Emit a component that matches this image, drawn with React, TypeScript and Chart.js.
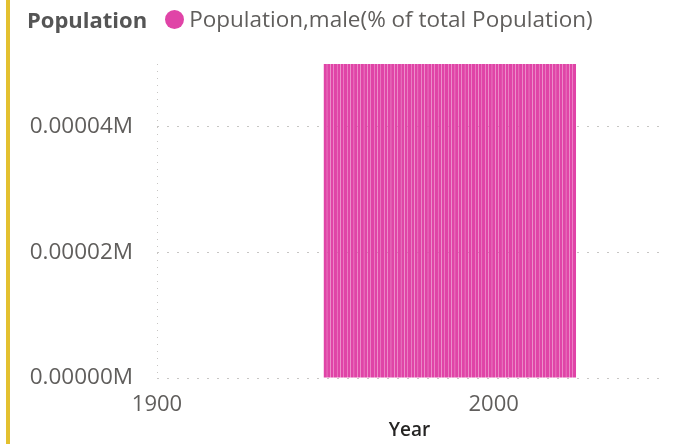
import React, { useEffect, useRef } from "react";
import { Chart, registerables } from "chart.js";

Chart.register(...registerables);

const years: number[] = [
  1950, 1951, 1952, 1953, 1954, 1955, 1956, 1957, 1958, 1959,
  1960, 1961, 1962, 1963, 1964, 1965, 1966, 1967, 1968, 1969,
  1970, 1971, 1972, 1973, 1974, 1975, 1976, 1977, 1978, 1979,
  1980, 1981, 1982, 1983, 1984, 1985, 1986, 1987, 1988, 1989,
  1990, 1991, 1992, 1993, 1994, 1995, 1996, 1997, 1998, 1999,
  2000, 2001, 2002, 2003, 2004, 2005, 2006, 2007, 2008, 2009,
  2010, 2011, 2012, 2013, 2014, 2015, 2016, 2017, 2018, 2019,
  2020, 2021, 2022, 2023, 2024,
];

const malePct: number[] = [
  50, 50, 50, 50, 50, 50, 50, 50, 50, 50,
  50, 50, 50, 50, 50, 50, 50, 50, 50, 50,
  50, 50, 50, 50, 50, 50, 50, 50, 50, 50,
  50, 50, 50, 50, 50, 50, 50, 50, 50, 50,
  50, 50, 50, 50, 50, 50, 50, 50, 50, 50,
  50, 50, 50, 50, 50, 50, 50, 50, 50, 50,
  50, 50, 50, 50, 50, 50, 50, 50, 50, 50,
  50, 50, 50, 50, 50,
];

const yTicks: number[] = [0, 20, 40];
const xTicks: number[] = [1900, 2000];

const legendTitle = "Population";
const seriesName = "Population,male(% of total Population)";
const xTitle = "Year";

const PINK = "#E044A7";
const TEXT = "#605E5C";
const GRID = "#C8C6C4";
const FONT = "'Open Sans', 'Noto Sans', sans-serif";

const dottedYAxis = {
  id: "dottedYAxis",
  beforeDatasetsDraw(chart: any) {
    const { ctx, chartArea } = chart;
    const x = Math.round(chartArea.left) + 0.5;
    ctx.save();
    ctx.strokeStyle = GRID;
    ctx.lineWidth = 1;
    ctx.setLineDash([1, 6]);
    ctx.beginPath();
    ctx.moveTo(x, chartArea.top);
    ctx.lineTo(x, chartArea.bottom);
    ctx.stroke();
    ctx.restore();
  },
};

export default function App() {
  const ref = useRef<HTMLCanvasElement | null>(null);

  useEffect(() => {
    if (!ref.current) return;
    const chart = new Chart(ref.current, {
      type: "bar",
      data: {
        datasets: [
          {
            label: seriesName,
            data: years.map((y, i) => ({ x: y, y: malePct[i] })),
            backgroundColor: PINK,
            borderWidth: 0,
            categoryPercentage: 1,
            barPercentage: 0.92,
          },
        ],
      },
      options: {
        animation: false,
        responsive: false,
        maintainAspectRatio: false,
        layout: { padding: { top: 64, right: 38, left: 0, bottom: 0 } },
        plugins: {
          legend: { display: false },
          tooltip: { enabled: false },
        },
        scales: {
          x: {
            type: "linear",
            min: 1900,
            max: 2050,
            offset: false,
            grid: { display: false },
            border: { display: false },
            afterBuildTicks: (s: any) => {
              s.ticks = xTicks.map((v) => ({ value: v }));
            },
            afterFit: (s: any) => {
              s.height = 66;
            },
            ticks: {
              autoSkip: false,
              maxRotation: 0,
              padding: 6,
              color: TEXT,
              font: { family: FONT, size: 22, lineHeight: 1.2 },
              callback: (v: any) => String(v),
            },
            title: {
              display: true,
              text: xTitle,
              color: "#252423",
              font: { family: FONT, size: 19, weight: "600", lineHeight: 1.2 },
              padding: { top: 0, bottom: 2 },
            },
          },
          y: {
            min: 0,
            max: 50,
            afterBuildTicks: (s: any) => {
              s.ticks = yTicks.map((v) => ({ value: v }));
            },
            afterFit: (s: any) => {
              s.width = 157;
            },
            grid: {
              color: GRID,
              lineWidth: 1,
              drawTicks: false,
            },
            border: {
              display: false,
              dash: [2, 8],
            },
            ticks: {
              padding: 24,
              color: TEXT,
              font: { family: FONT, size: 22.5, lineHeight: 1.2 },
              callback: (v: any) => (Number(v) / 1e6).toFixed(5) + "M",
            },
          },
        },
      },
      plugins: [dottedYAxis],
    });
    return () => chart.destroy();
  }, []);

  return (
    <div
      style={{
        position: "fixed",
        left: 0,
        top: 0,
        width: 700,
        height: 444,
        background: "#fff",
        overflow: "hidden",
      }}
    >
      <canvas
        ref={ref}
        width={700}
        height={444}
        style={{ position: "absolute", left: 0, top: 0, width: 700, height: 444 }}
      />
      <div
        style={{
          position: "absolute",
          left: 6,
          top: 0,
          width: 4,
          height: 444,
          background: "#E3C02F",
        }}
      />
      <div
        style={{
          position: "absolute",
          left: 27,
          top: 4,
          height: 30,
          lineHeight: "30px",
          fontFamily: FONT,
          whiteSpace: "nowrap",
          display: "flex",
          alignItems: "center",
        }}
      >
        <span style={{ fontWeight: 700, color: "#555555", fontSize: 22 }}>{legendTitle}</span>
        <span
          style={{
            display: "inline-block",
            width: 19,
            height: 19,
            borderRadius: "50%",
            background: PINK,
            marginLeft: 18,
            marginRight: 5,
          }}
        />
        <span style={{ color: TEXT, fontSize: 22.5 }}>{seriesName}</span>
      </div>
    </div>
  );
}
